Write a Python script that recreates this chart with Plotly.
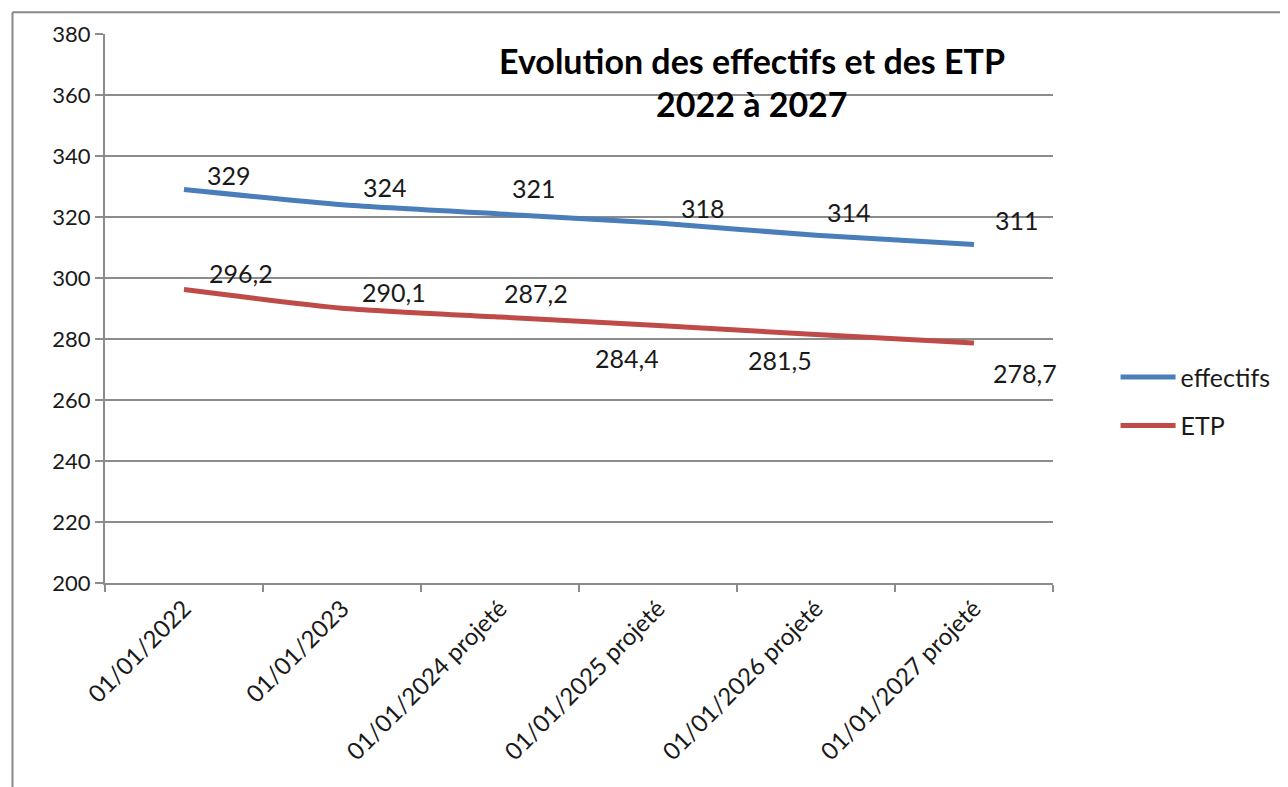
import plotly.graph_objects as go

categories = ["01/01/2022", "01/01/2023", "01/01/2024 projeté",
              "01/01/2025 projeté", "01/01/2026 projeté", "01/01/2027 projeté"]
effectifs = [329, 324, 321, 318, 314, 311]
etp = [296.2, 290.1, 287.2, 284.4, 281.5, 278.7]
effectifs_labels = ["329", "324", "321", "318", "314", "311"]
etp_labels = ["296,2", "290,1", "287,2", "284,4", "281,5", "278,7"]
y_ticks = [200, 220, 240, 260, 280, 300, 320, 340, 360, 380]

# label offsets in pixels (label placement, as in the reference)
eff_dx = [45, 43, 34, 45, 33, 43]
eff_dy = [15, 18, 26, 15, 23, 24]
etp_dx = [57, 52, 36, -31, -36, 51]
etp_dy = [17, 16, 24, -32, -26, -30]

FONT = "Lato"
TXT = "#1a1a1a"
GRID = "#8c8c8c"
BLUE = "#4a7ebb"
RED = "#be4b48"

fig = go.Figure()
fig.add_trace(go.Scatter(x=categories, y=effectifs, mode="lines", name="effectifs",
                         line=dict(color=BLUE, width=5, shape="spline", smoothing=0.6),
                         legendgroup="a"))
fig.add_trace(go.Scatter(x=categories, y=etp, mode="lines", name="ETP",
                         line=dict(color=RED, width=5, shape="spline", smoothing=0.6),
                         legendgroup="b"))

annotations = []
for i, c in enumerate(categories):
    annotations.append(dict(x=c, y=effectifs[i], xref="x", yref="y", text=effectifs_labels[i],
                            showarrow=False, xshift=eff_dx[i], yshift=eff_dy[i],
                            font=dict(family=FONT, size=25, color=TXT)))
    annotations.append(dict(x=c, y=etp[i], xref="x", yref="y", text=etp_labels[i],
                            showarrow=False, xshift=etp_dx[i], yshift=etp_dy[i],
                            font=dict(family=FONT, size=25, color=TXT)))

annotations.append(dict(x=0.683, y=0.951, xref="paper", yref="paper",
                        text="<b>Evolution des effectifs et des ETP</b>", showarrow=False,
                        xanchor="center", yanchor="middle",
                        font=dict(family=FONT, size=34, color="#000000")))
annotations.append(dict(x=0.683, y=0.874, xref="paper", yref="paper",
                        text="<b>2022 à 2027</b>", showarrow=False,
                        xanchor="center", yanchor="middle",
                        font=dict(family=FONT, size=34, color="#000000")))

fig.update_layout(
    width=1280, height=779,
    margin=dict(l=97, r=230, t=22, b=204),
    paper_bgcolor="white", plot_bgcolor="white",
    font=dict(family=FONT, size=22, color=TXT),
    showlegend=True,
    legend=dict(x=1.066, y=0.331, xanchor="left", yanchor="middle",
                traceorder="grouped", tracegroupgap=13, itemwidth=55,
                font=dict(family=FONT, size=25, color=TXT),
                bgcolor="rgba(0,0,0,0)"),
    annotations=annotations,
    shapes=[dict(type="line", xref="paper", yref="paper", x0=-0.0976, x1=-0.0976,
                 y0=1.0398, y1=-0.6, line=dict(color="#888888", width=2)),
            dict(type="line", xref="paper", yref="paper", x0=-0.0976, x1=1.4,
                 y0=1.0398, y1=1.0398, line=dict(color="#888888", width=2))],
)
fig.update_xaxes(type="category", range=[-0.5, 5.5], tickson="boundaries",
                 ticks="outside", ticklen=7, tickcolor=GRID, tickwidth=2,
                 showline=True, linecolor=GRID, linewidth=2, showgrid=False,
                 tickangle=-45, tickfont=dict(family=FONT, size=24, color=TXT))
fig.update_yaxes(range=[200, 380], tickvals=y_ticks, ticks="outside", ticklen=8,
                 tickcolor=GRID, tickwidth=2, showline=True, linecolor=GRID, linewidth=2,
                 showgrid=True, gridcolor=GRID, gridwidth=2, zeroline=False,
                 tickfont=dict(family=FONT, size=22, color=TXT))

fig.write_html("out.html")
